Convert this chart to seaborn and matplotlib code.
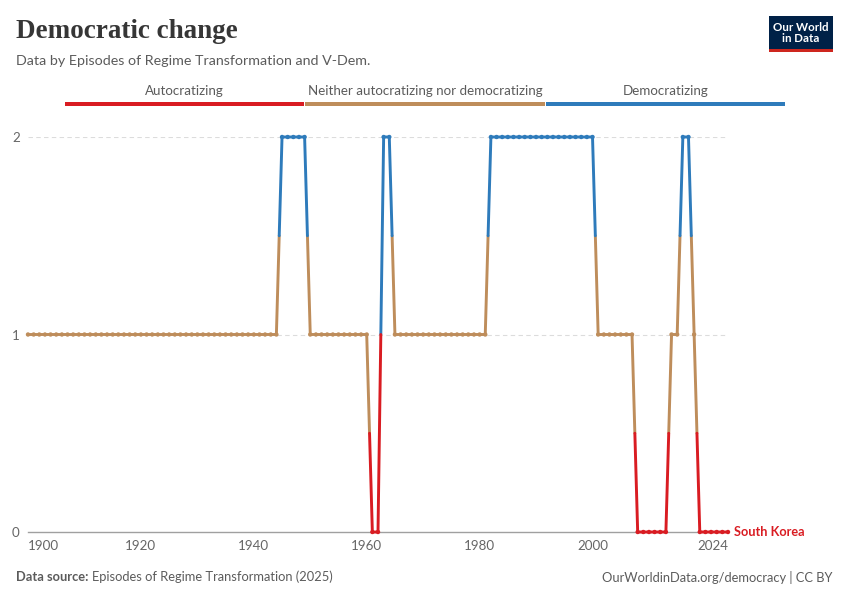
import numpy as np
import pandas as pd
import matplotlib
matplotlib.use("Agg")
import matplotlib.pyplot as plt
from matplotlib.patches import Rectangle
import seaborn as sns

# ---- data ----
years = list(range(1900, 2025))
values = (
    [1] * 10 +                                # 1900s
    [1] * 10 +                                # 1910s
    [1] * 10 +                                # 1920s
    [1] * 10 +                                # 1930s
    [1, 1, 1, 1, 1, 2, 2, 2, 2, 2] +          # 1940s
    [1] * 10 +                                # 1950s
    [1, 0, 0, 2, 2, 1, 1, 1, 1, 1] +          # 1960s
    [1] * 10 +                                # 1970s
    [1, 1, 2, 2, 2, 2, 2, 2, 2, 2] +          # 1980s
    [2] * 10 +                                # 1990s
    [2, 1, 1, 1, 1, 1, 1, 1, 0, 0] +          # 2000s
    [0, 0, 0, 0, 1, 1, 2, 2, 1, 0] +          # 2010s
    [0, 0, 0, 0, 0]                           # 2020s
)
categories = ["Autocratizing", "Neither autocratizing nor democratizing", "Democratizing"]
cat_colors = ["#d91c22", "#be8d5b", "#2e7bbb"]
country = "South Korea"
x_ticks = [1900, 1920, 1940, 1960, 1980, 2000, 2024]
y_ticks = [0, 1, 2]

palette = dict(zip(categories, cat_colors))

# ---- build colour-split line pieces (split at midpoints) ----
rows = []
path_id = 0
cur_cat = None
for i in range(len(years) - 1):
    x0, y0, x1, y1 = years[i], values[i], years[i + 1], values[i + 1]
    xm, ym = (x0 + x1) / 2, (y0 + y1) / 2
    for (ax_, ay_, bx_, by_, c) in [(x0, y0, xm, ym, categories[y0]),
                                     (xm, ym, x1, y1, categories[y1])]:
        if c != cur_cat:
            path_id += 1
            cur_cat = c
            rows.append((ax_, ay_, path_id, c))
        rows.append((bx_, by_, path_id, c))
lines_df = pd.DataFrame(rows, columns=["x", "y", "path", "cat"])
pts_df = pd.DataFrame({"x": years, "y": values, "cat": [categories[v] for v in values]})

# ---- figure ----
sns.set_style("white")
plt.rcParams["font.family"] = ["Lato", "DejaVu Sans"]

W, H = 850, 600
fig = plt.figure(figsize=(W / 100, H / 100), dpi=100)
ax = fig.add_axes([28 / W, (H - 532) / H, (728 - 28) / W, (532 - 137) / H])

sns.lineplot(data=lines_df, x="x", y="y", hue="cat", units="path", estimator=None,
             sort=False, palette=palette, linewidth=2.1, legend=False, ax=ax, zorder=3)
sns.scatterplot(data=pts_df, x="x", y="y", hue="cat", palette=palette, s=10,
                linewidth=0, legend=False, ax=ax, zorder=4)
for ln in ax.lines:
    ln.set_clip_on(False)
for coll in ax.collections:
    coll.set_clip_on(False)

ax.set_xlim(1900, 2024)
ax.set_ylim(0, 2)
ax.set_xlabel("")
ax.set_ylabel("")
ax.set_xticks(x_ticks)
ax.set_xticklabels([str(t) for t in x_ticks])
ax.set_yticks(y_ticks)
ax.set_yticklabels([str(t) for t in y_ticks])
for s in ["top", "right", "left"]:
    ax.spines[s].set_visible(False)
ax.spines["bottom"].set_color("#a0a0a0")
ax.spines["bottom"].set_linewidth(1)
ax.tick_params(axis="x", length=4, width=1, color="#a0a0a0", labelcolor="#666666",
               labelsize=9.6, pad=2)
ax.tick_params(axis="y", length=0, labelcolor="#666666", labelsize=9.6, pad=6)
xl = ax.get_xticklabels()
xl[0].set_ha("left")
xl[-1].set_ha("right")
for gy in [1, 2]:
    ax.axhline(gy, color="#dcdcdc", linewidth=0.8, linestyle=(0, (4, 3)), zorder=1)

ax.annotate(country, xy=(2024, 0), xytext=(4, 0), textcoords="offset points",
            va="center", ha="left", color=cat_colors[0], fontsize=9.2,
            fontweight="bold", annotation_clip=False)

# ---- header ----
def fy(py):
    return 1 - py / H

fig.text(16 / W, fy(31), "Democratic change", fontsize=19.5, fontweight="bold",
         family=["Liberation Serif", "DejaVu Serif"], color="#363636", va="center", ha="left")
fig.text(16 / W, fy(61), "Data by Episodes of Regime Transformation and V-Dem.",
         fontsize=10.3, color="#5b5b5b", va="center", ha="left")

# legend bars
bar_bounds = [(65, 304), (305, 545), (546, 785)]
for (x0, x1), c, lab in zip(bar_bounds, cat_colors, categories):
    fig.patches.append(Rectangle((x0 / W, fy(106)), (x1 - x0) / W, 4.5 / H,
                                 transform=fig.transFigure, color=c, lw=0))
    fig.text((x0 + x1) / 2 / W, fy(91), lab, fontsize=9.6, color="#5b5b5b",
             ha="center", va="center")

# logo
fig.patches.append(Rectangle((769 / W, fy(49)), 64 / W, 33 / H, transform=fig.transFigure,
                             color="#002147", lw=0))
fig.patches.append(Rectangle((769 / W, fy(52)), 64 / W, 3 / H, transform=fig.transFigure,
                             color="#ce261e", lw=0))
fig.text(801 / W, fy(33), "Our World\nin Data", color="white", fontsize=8.3,
         fontweight="bold", ha="center", va="center", linespacing=0.95)

# ---- footer ----
t1 = fig.text(16 / W, fy(577), "Data source:", fontsize=9.3, fontweight="bold",
              color="#5b5b5b", va="center", ha="left")
fig.canvas.draw()
bb = t1.get_window_extent()
fig.text((bb.x1 + 4) / W, fy(577), "Episodes of Regime Transformation (2025)",
         fontsize=9.3, color="#5b5b5b", va="center", ha="left")
fig.text(833 / W, fy(577), "OurWorldinData.org/democracy | CC BY", fontsize=9.3,
         color="#5b5b5b", va="center", ha="right")

fig.savefig("out.png", dpi=100, facecolor="white")
